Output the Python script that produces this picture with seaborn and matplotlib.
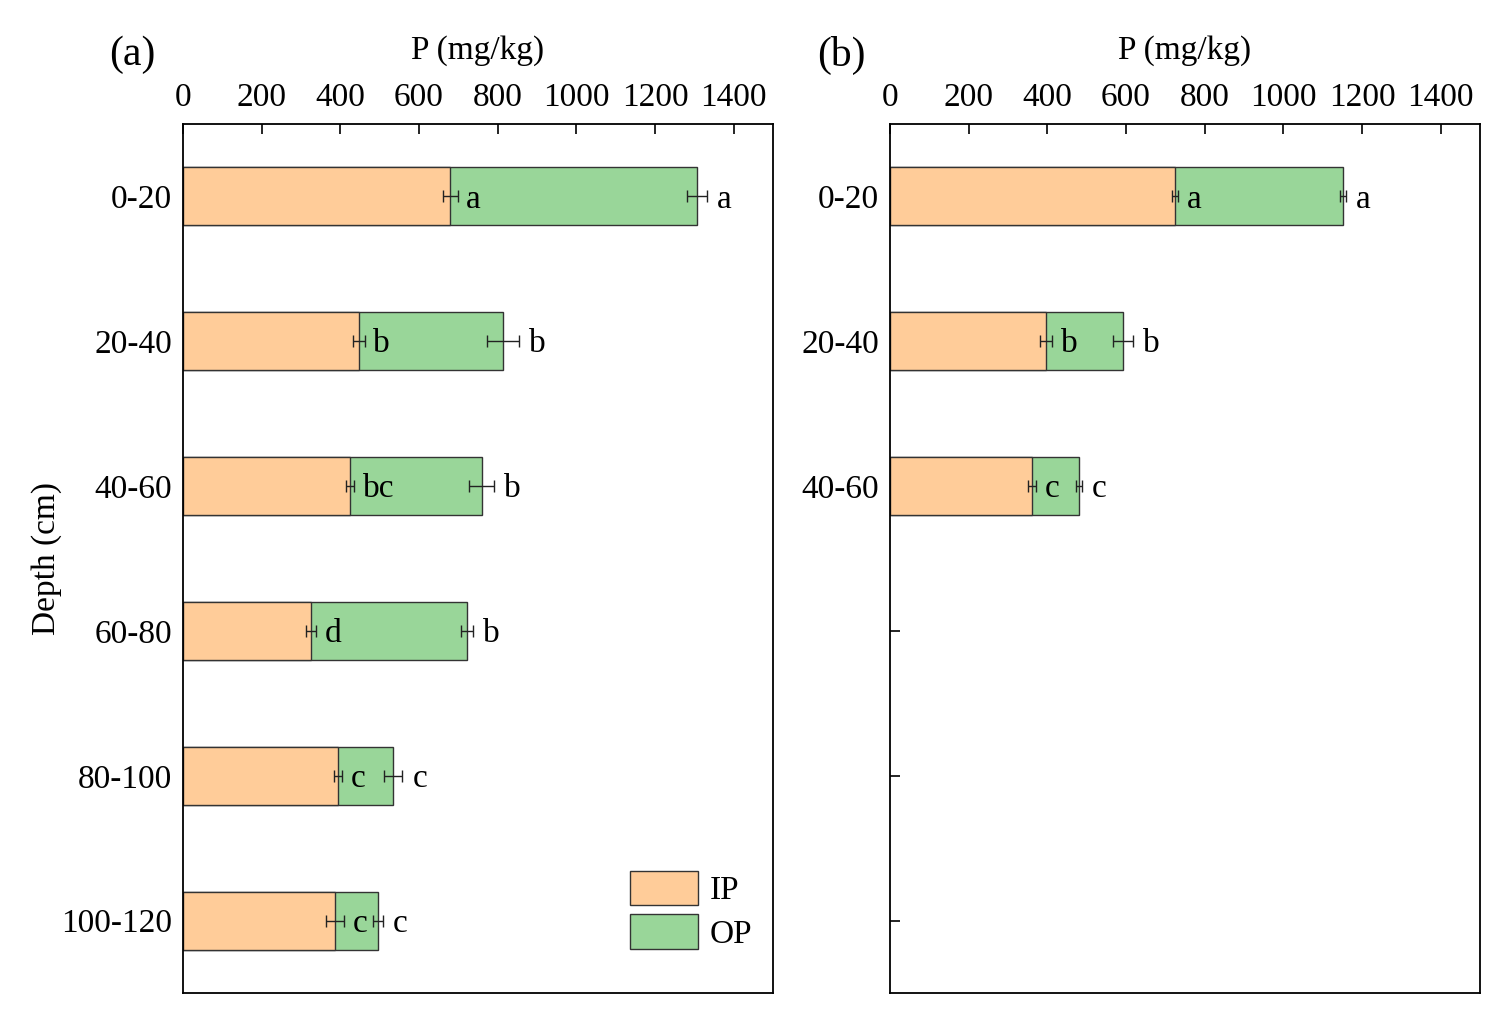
import matplotlib
matplotlib.use("Agg")
import matplotlib.pyplot as plt
import numpy as np
import pandas as pd
import seaborn as sns
from matplotlib.patches import Patch

sns.set_theme(style="white")
plt.rcParams["font.family"] = ["Liberation Serif", "DejaVu Serif"]
plt.rcParams["text.color"] = "black"
plt.rcParams["axes.labelcolor"] = "black"
plt.rcParams["xtick.color"] = "black"
plt.rcParams["ytick.color"] = "black"

# ---------------------------------------------------------------------
# data
# ---------------------------------------------------------------------
depths = ["0-20", "20-40", "40-60", "60-80", "80-100", "100-120"]

# panel (a)
ip_a = [679, 447, 425, 325, 394, 386]
tot_a = [1307, 814, 760, 722, 534, 496]
ip_err_a = [19, 15, 10, 13, 10, 23]
tot_err_a = [25, 40, 32, 15, 24, 13]
ip_let_a = ["a", "b", "bc", "d", "c", "c"]
tot_let_a = ["a", "b", "b", "b", "c", "c"]

# panel (b)
depths_b = ["0-20", "20-40", "40-60"]
ip_b = [725, 397, 361]
tot_b = [1152, 592, 481]
ip_err_b = [8, 15, 10]
tot_err_b = [8, 26, 8]
ip_let_b = ["a", "b", "c"]
tot_let_b = ["a", "b", "c"]

IP_COLOR = "#FFCC99"
OP_COLOR = "#99D699"
EDGE = "#333333"
FS = 24

fig = plt.figure(figsize=(15, 10.19), dpi=100)
ax_a = fig.add_axes([0.122, 0.0255, 0.3933, 0.8528])
ax_b = fig.add_axes([0.5933, 0.0255, 0.3934, 0.8528])


def draw_panel(ax, cats, ip, tot, ip_err, tot_err, ip_let, tot_let):
    df = pd.DataFrame({"Depth": cats, "IP": ip, "Total": tot})
    # total (green) first, IP drawn over it -> stacked look
    sns.barplot(data=df, y="Depth", x="Total", order=depths, orient="h",
                color=OP_COLOR, saturation=1, width=0.4,
                edgecolor=EDGE, linewidth=1, ax=ax)
    sns.barplot(data=df, y="Depth", x="IP", order=depths, orient="h",
                color=IP_COLOR, saturation=1, width=0.4,
                edgecolor=EDGE, linewidth=1, ax=ax)
    ypos = [depths.index(c) for c in cats]
    ax.errorbar(ip, ypos, xerr=ip_err, fmt="none", ecolor="#222222",
                elinewidth=1, capsize=4, capthick=1)
    ax.errorbar(tot, ypos, xerr=tot_err, fmt="none", ecolor="#222222",
                elinewidth=1, capsize=4, capthick=1)
    for y, x, e, t in zip(ypos, ip, ip_err, ip_let):
        ax.text(x + e + 22, y + 0.02, t, va="center", ha="left", fontsize=FS)
    for y, x, e, t in zip(ypos, tot, tot_err, tot_let):
        ax.text(x + e + 25, y + 0.02, t, va="center", ha="left", fontsize=FS)

    ax.set_xlim(0, 1500)
    ax.set_ylim(5.5, -0.5)
    ax.set_xticks(np.arange(0, 1401, 200))
    ax.xaxis.tick_top()
    ax.xaxis.set_label_position("top")
    ax.set_xlabel("P (mg/kg)", fontsize=FS, labelpad=17)
    ax.tick_params(axis="x", which="both", direction="in", length=7,
                   width=1.2, labelsize=FS, pad=8,
                   top=True, bottom=False)
    ax.tick_params(axis="y", direction="in", length=7, width=1.2,
                   labelsize=FS, pad=8, left=True)
    for s in ax.spines.values():
        s.set_color("black")
        s.set_linewidth(1.3)


draw_panel(ax_a, depths, ip_a, tot_a, ip_err_a, tot_err_a, ip_let_a, tot_let_a)
draw_panel(ax_b, depths_b, ip_b, tot_b, ip_err_b, tot_err_b, ip_let_b, tot_let_b)

ax_a.set_ylabel("Depth (cm)", fontsize=FS)
ax_a.yaxis.set_label_coords(-0.205, 0.5)
ax_b.set_ylabel("")
ax_b.set_yticks(range(len(depths)))
ax_b.set_yticklabels(depths_b + [""] * (len(depths) - len(depths_b)))

handles = [Patch(facecolor=IP_COLOR, edgecolor=EDGE, label="IP"),
           Patch(facecolor=OP_COLOR, edgecolor=EDGE, label="OP")]
ax_a.legend(handles=handles, loc="lower right", frameon=False, fontsize=FS,
            handlelength=2.05, handleheight=1.2, handletextpad=0.35,
            labelspacing=0.25, borderaxespad=0.9,
            bbox_to_anchor=(1.039, 0.0))

fig.text(0.073, 0.946, "(a)", fontsize=30, ha="left", va="center")
fig.text(0.545, 0.946, "(b)", fontsize=30, ha="left", va="center")

fig.savefig("out.png", dpi=100)
